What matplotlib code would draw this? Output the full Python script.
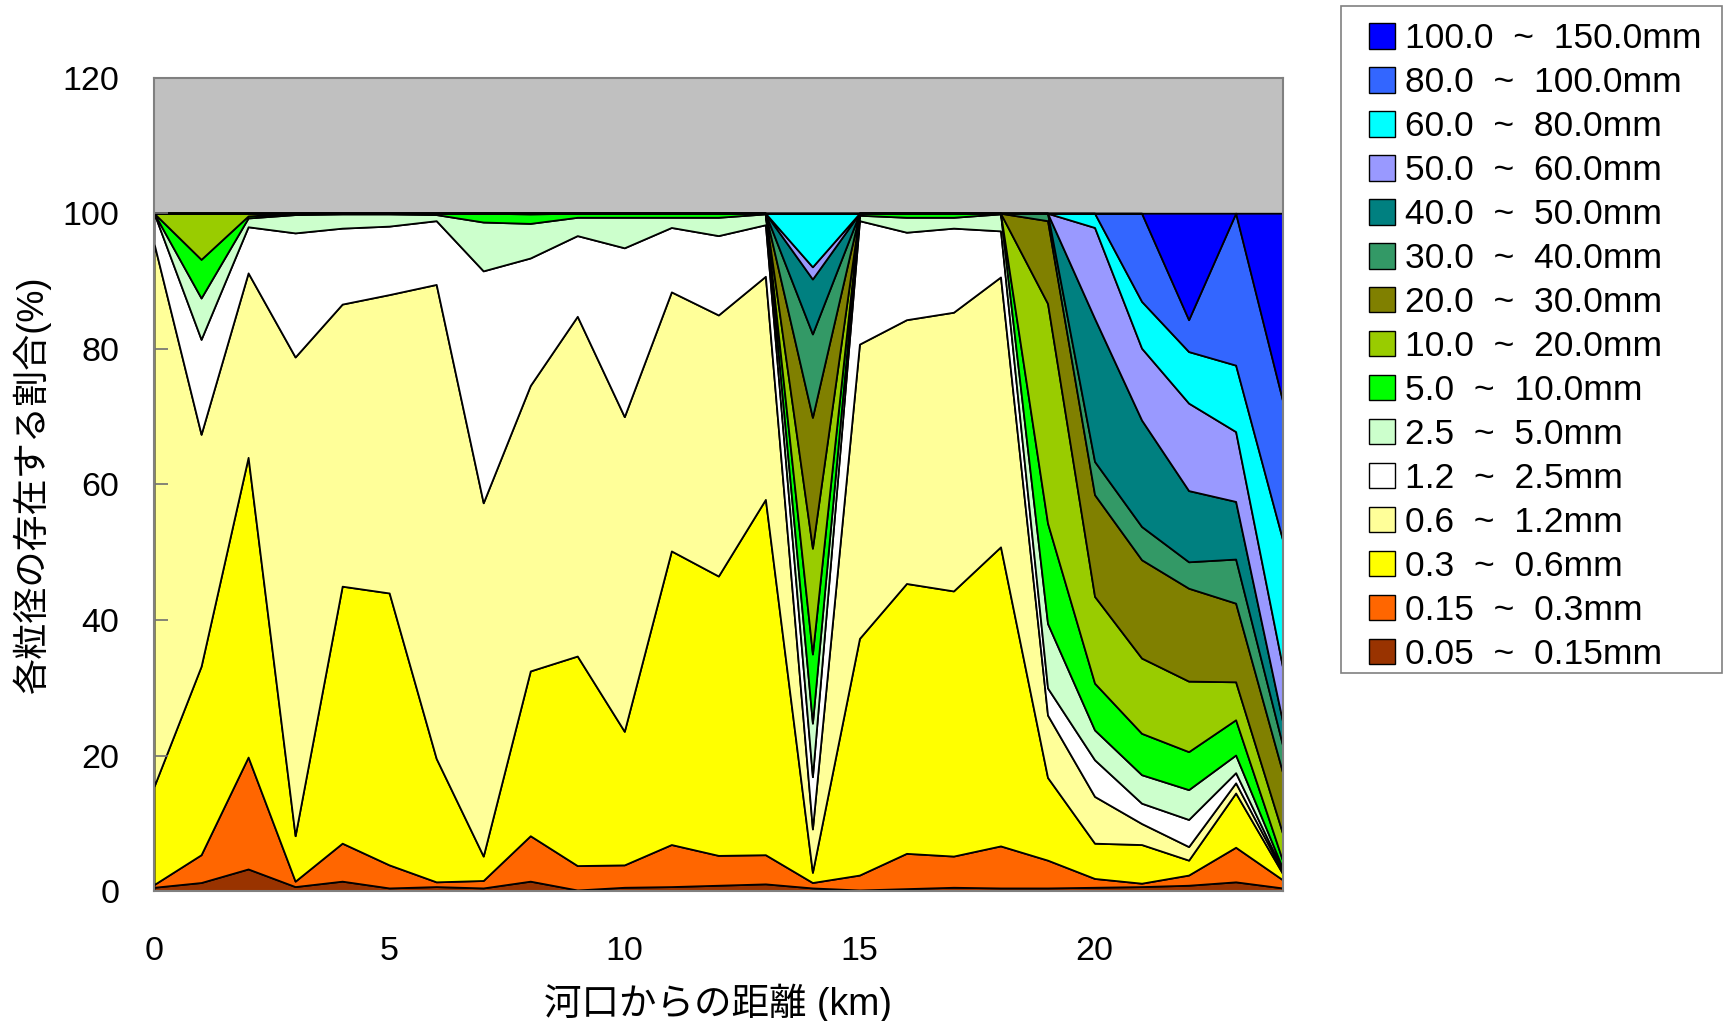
import matplotlib.pyplot as plt
from matplotlib.patches import Patch, Rectangle

plt.rcParams['font.family'] = ['Liberation Sans', 'Noto Sans CJK JP']

# distance from the river mouth (km)
km = [0, 1, 2, 3, 4, 5, 6, 7, 8, 9, 10, 11, 12, 13, 14, 15, 16, 17, 18, 19, 20, 21, 22, 23, 24]

# share of each grain-size class (%) at every section
p_005_015 = [0.6, 1.3, 3.3, 0.7, 1.5, 0.5, 0.7, 0.5, 1.5, 0.2, 0.6, 0.7, 0.9, 1.1, 0.5, 0.2, 0.4, 0.6, 0.5, 0.5, 0.6, 0.7, 0.9, 1.4, 0.5]
p_015_03 = [0.4, 4.1, 16.5, 0.8, 5.6, 3.4, 0.7, 1.1, 6.7, 3.6, 3.3, 6.2, 4.4, 4.3, 0.8, 2.2, 5.2, 4.6, 6.2, 4.1, 1.3, 0.5, 1.5, 5.1, 1.2]
p_03_06 = [14.5, 27.8, 44.2, 6.7, 37.9, 40.1, 18.2, 3.6, 24.3, 30.9, 19.7, 43.3, 41.2, 52.4, 1.5, 34.9, 39.8, 39.1, 44.1, 12.2, 5.2, 5.7, 2.2, 8.0, 0.9]
p_06_12 = [80.0, 34.2, 27.2, 70.6, 41.6, 44.0, 69.9, 52.1, 42.1, 50.1, 46.4, 38.2, 38.5, 32.9, 6.4, 43.4, 38.9, 41.1, 39.8, 9.2, 6.9, 3.1, 2.0, 1.5, 0.3]
p_12_25 = [4.5, 14.0, 6.8, 18.3, 11.2, 10.1, 9.4, 34.2, 18.8, 11.9, 24.9, 9.5, 11.7, 7.6, 7.7, 18.2, 12.9, 12.4, 6.8, 4.0, 5.4, 3.0, 4.0, 1.5, 0.2]
p_25_50 = [0.0, 6.1, 1.3, 2.7, 2.1, 1.8, 0.9, 7.2, 5.1, 2.7, 4.5, 1.5, 2.7, 1.6, 7.9, 0.8, 2.2, 1.6, 2.5, 9.5, 4.4, 4.2, 4.4, 2.6, 0.3]
p_50_100 = [0.0, 5.7, 0.3, 0.2, 0.1, 0.1, 0.2, 1.3, 1.4, 0.6, 0.6, 0.6, 0.6, 0.1, 10.2, 0.3, 0.6, 0.6, 0.1, 14.8, 6.9, 6.1, 5.6, 5.2, 1.1]
p_100_200 = [0.0, 6.8, 0.4, 0.0, 0.0, 0.0, 0.0, 0.0, 0.1, 0.0, 0.0, 0.0, 0.0, 0.0, 15.6, 0.0, 0.0, 0.0, 0.0, 32.4, 12.8, 11.1, 10.4, 5.6, 4.0]
p_200_300 = [0.0, 0.0, 0.0, 0.0, 0.0, 0.0, 0.0, 0.0, 0.0, 0.0, 0.0, 0.0, 0.0, 0.0, 19.3, 0.0, 0.0, 0.0, 0.0, 12.2, 15.0, 14.5, 13.7, 11.6, 9.0]
p_300_400 = [0.0, 0.0, 0.0, 0.0, 0.0, 0.0, 0.0, 0.0, 0.0, 0.0, 0.0, 0.0, 0.0, 0.0, 12.3, 0.0, 0.0, 0.0, 0.0, 1.1, 4.9, 4.9, 3.9, 6.5, 4.0]
p_400_500 = [0.0, 0.0, 0.0, 0.0, 0.0, 0.0, 0.0, 0.0, 0.0, 0.0, 0.0, 0.0, 0.0, 0.0, 8.1, 0.0, 0.0, 0.0, 0.0, 0.0, 21.1, 15.7, 10.5, 8.5, 3.5]
p_500_600 = [0.0, 0.0, 0.0, 0.0, 0.0, 0.0, 0.0, 0.0, 0.0, 0.0, 0.0, 0.0, 0.0, 0.0, 1.8, 0.0, 0.0, 0.0, 0.0, 0.0, 13.4, 10.6, 12.9, 10.3, 8.0]
p_600_800 = [0.0, 0.0, 0.0, 0.0, 0.0, 0.0, 0.0, 0.0, 0.0, 0.0, 0.0, 0.0, 0.0, 0.0, 7.9, 0.0, 0.0, 0.0, 0.0, 0.0, 2.1, 6.9, 7.6, 9.8, 18.8]
p_800_1000 = [0.0, 0.0, 0.0, 0.0, 0.0, 0.0, 0.0, 0.0, 0.0, 0.0, 0.0, 0.0, 0.0, 0.0, 0.0, 0.0, 0.0, 0.0, 0.0, 0.0, 0.0, 13.0, 4.7, 22.4, 20.5]
p_1000_1500 = [0.0, 0.0, 0.0, 0.0, 0.0, 0.0, 0.0, 0.0, 0.0, 0.0, 0.0, 0.0, 0.0, 0.0, 0.0, 0.0, 0.0, 0.0, 0.0, 0.0, 0.0, 0.0, 15.7, 0.0, 27.7]

size_labels = [
    "0.05  ~  0.15mm", "0.15  ~  0.3mm", "0.3  ~  0.6mm", "0.6  ~  1.2mm",
    "1.2  ~  2.5mm", "2.5  ~  5.0mm", "5.0  ~  10.0mm", "10.0  ~  20.0mm",
    "20.0  ~  30.0mm", "30.0  ~  40.0mm", "40.0  ~  50.0mm", "50.0  ~  60.0mm",
    "60.0  ~  80.0mm", "80.0  ~  100.0mm", "100.0  ~  150.0mm",
]
layers = [p_005_015, p_015_03, p_03_06, p_06_12, p_12_25, p_25_50, p_50_100,
          p_100_200, p_200_300, p_300_400, p_400_500, p_500_600, p_600_800,
          p_800_1000, p_1000_1500]
colors = ["#993300", "#FF6600", "#FFFF00", "#FFFF99", "#FFFFFF", "#CCFFCC",
          "#00FF00", "#99CC00", "#808000", "#339966", "#008080", "#9999FF",
          "#00FFFF", "#3366FF", "#0000FF"]

fig = plt.figure(figsize=(17.31, 10.21), dpi=100)
ax = fig.add_axes([0.089, 0.127, 0.652, 0.797])
ax.set_facecolor("#C0C0C0")

ax.stackplot(km, *layers, colors=colors, edgecolor="black", linewidth=1.3)

ax.set_xlim(0, 24)
ax.set_ylim(0, 120)
ax.set_xticks([0, 5, 10, 15, 20])
ax.set_yticks([0, 20, 40, 60, 80, 100, 120])
ax.tick_params(axis="x", length=0, pad=32, labelsize=24.5)
ax.tick_params(axis="y", direction="in", length=10, width=1.2, color="#707070",
               pad=25, labelsize=24.5)
for sp in ax.spines.values():
    sp.set_color("#808080")
    sp.set_linewidth(1.5)

ax.set_xlabel("河口からの距離 (km)", fontsize=27, labelpad=12)
ax.set_ylabel("各粒径の存在する割合(%)", fontsize=26, labelpad=8)

# legend box drawn separately so the entries can sit freely inside it
fig.add_artist(Rectangle((0.7747, 0.3404), 0.2201, 0.6542, transform=fig.transFigure,
                         facecolor="white", edgecolor="#808080", linewidth=1.2))
handles = [Patch(facecolor=c, edgecolor="black", linewidth=1) for c in colors]
fig.legend(handles[::-1], size_labels[::-1], loc="upper left",
           bbox_to_anchor=(0.7909, 0.9781), borderaxespad=0, borderpad=0,
           fontsize=25.5, handlelength=0.72, handleheight=0.72,
           handletextpad=0.3, labelspacing=0.31, frameon=False)

fig.savefig("out.png", dpi=100)
